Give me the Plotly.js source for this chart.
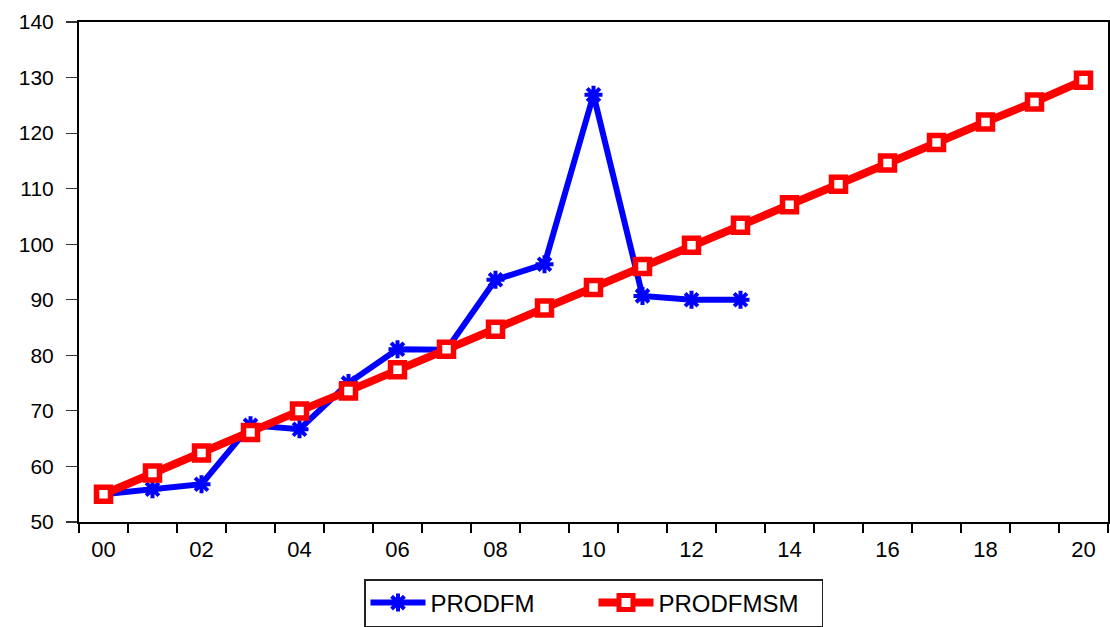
<!DOCTYPE html>
<html>
<head>
<meta charset="utf-8">
<script src="https://cdn.plot.ly/plotly-3.0.1.min.js"></script>
<style>
html,body{margin:0;padding:0;background:#fff;}
#chart{width:1110px;height:627px;}
</style>
</head>
<body>
<div id="chart"></div>
<script>
// Categories (years)
var years = [2000,2001,2002,2003,2004,2005,2006,2007,2008,2009,2010,2011,2012,2013,2014,2015,2016,2017,2018,2019,2020];
var yearsFM = [2000,2001,2002,2003,2004,2005,2006,2007,2008,2009,2010,2011,2012,2013];
// Series values
var prodfm = [55.0, 55.9, 56.8, 67.4, 66.7, 75.0, 81.1, 81.0, 93.6, 96.4, 126.9, 90.7, 90.0, 90.0];
var prodfmsm = [55.0, 58.8, 62.4, 66.1, 70.0, 73.6, 77.4, 81.1, 84.7, 88.5, 92.2, 96.0, 99.8, 103.4, 107.1, 110.8, 114.6, 118.3, 122.0, 125.6, 129.5];
// Tick labels
var xTickVals = [2000,2002,2004,2006,2008,2010,2012,2014,2016,2018,2020];
var xTickText = ['00','02','04','06','08','10','12','14','16','18','20'];
var xBoundaries = [1999.5,2000.5,2001.5,2002.5,2003.5,2004.5,2005.5,2006.5,2007.5,2008.5,2009.5,2010.5,2011.5,2012.5,2013.5,2014.5,2015.5,2016.5,2017.5,2018.5,2019.5,2020.5];
var yTickVals = [50,60,70,80,90,100,110,120,130,140];

var FONT = 'Liberation Sans, Arial, sans-serif';

var traces = [
  {
    x: yearsFM, y: prodfm, name: 'PRODFM', type: 'scatter', mode: 'lines+markers',
    line: {color: '#0000ff', width: 6},
    marker: {symbol: 'asterisk-open', size: 15, color: '#0000ff', line: {color: '#0000ff', width: 4}}
  },
  {
    x: years, y: prodfmsm, name: 'PRODFMSM', type: 'scatter', mode: 'lines+markers',
    line: {color: '#ff0000', width: 8},
    marker: {symbol: 'square', size: 14, color: '#ffffff', line: {color: '#ff0000', width: 5.5}}
  }
];

var layout = {
  width: 1110, height: 627,
  margin: {l: 79, r: 2, t: 22, b: 105},
  paper_bgcolor: '#ffffff', plot_bgcolor: '#ffffff',
  font: {family: FONT, color: '#000'},
  showlegend: true,
  legend: {
    orientation: 'h', x: 0.5, xanchor: 'center',
    yref: 'container', y: 0, yanchor: 'bottom',
    bordercolor: '#222', borderwidth: 1.5, bgcolor: '#fff',
    itemwidth: 55, entrywidth: 158,
    font: {family: FONT, size: 24, color: '#000'}
  },
  xaxis: {
    range: [1999.5, 2020.5],
    tickmode: 'array', tickvals: xTickVals, ticktext: xTickText,
    ticks: '', showgrid: false, zeroline: false,
    showline: true, linecolor: '#000', linewidth: 2, mirror: true,
    tickfont: {family: FONT, size: 22, color: '#000'},
    ticklabelstandoff: 7,
    minor: {tickmode: 'array', tickvals: xBoundaries, ticks: 'outside', ticklen: 9, tickwidth: 1.5, tickcolor: '#000', showgrid: false}
  },
  yaxis: {
    range: [50, 140],
    tickmode: 'array', tickvals: yTickVals,
    ticks: 'outside', ticklen: 11, tickwidth: 1.2, tickcolor: '#333',
    showgrid: false, zeroline: false,
    showline: true, linecolor: '#000', linewidth: 2, mirror: true,
    tickfont: {family: FONT, size: 21, color: '#000'},
    ticklabelstandoff: 8
  }
};

Plotly.newPlot('chart', traces, layout, {displayModeBar: false, staticPlot: true});
</script>
</body>
</html>
